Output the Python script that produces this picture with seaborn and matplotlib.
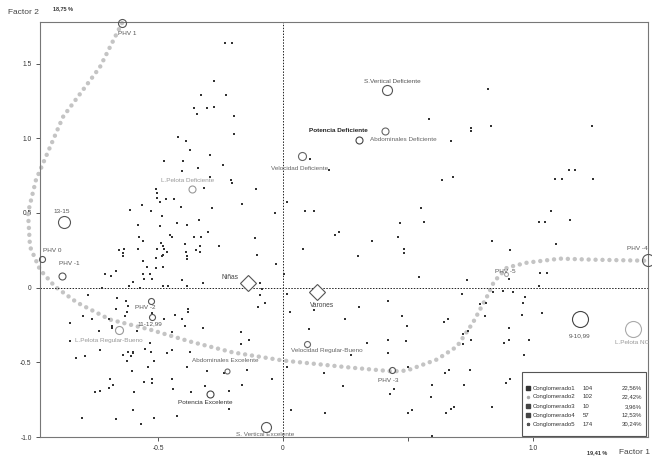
import matplotlib
matplotlib.use("Agg")
import matplotlib.pyplot as plt
import seaborn as sns
import pandas as pd
from matplotlib.patches import Rectangle

sns.set_style("white")
plt.rcParams['font.family'] = ['Liberation Sans', 'DejaVu Sans']

# ---- individuals (factor 1, factor 2) ----
pt_x = [-0.232, -0.205, -0.276, -0.328, -0.228, -0.356, -0.304, -0.277, -0.345, -0.196,
        -0.196, -0.421, -0.387, -0.373, -0.291,
        -0.476, -0.399, -0.341, -0.241, -0.405, -0.291, -0.209, -0.205, -0.315, -0.508,
        -0.505, -0.505, -0.108, -0.468, -0.436, -0.493, -0.563, -0.163, -0.408, -0.285,
        -0.612, -0.528, -0.033, -0.485, -0.337, -0.424, -0.385, -0.579, -0.492, -0.301,
        -0.452, -0.445, -0.575, -0.356, -0.327, -0.112, -0.560, -0.488, -0.392, -0.332,
        -0.255, -0.581, -0.504, -0.480, -0.476, -0.348, -0.655, -0.635, -0.641, -0.641,
        -0.463, -0.389, -0.333, -0.481, -0.485, -0.508, -0.103, -0.385, -0.384, -0.559,
        -0.029, -0.543, -0.509, -0.479, -0.669, -0.712, -0.687, -0.560, -0.531, -0.556,
        -0.524, -0.599, -0.405, -0.321, -0.091, -0.479, -0.461, -0.383, -0.615, -0.571,
        -0.725,
        -0.779, -0.664, -0.628, -0.667, -0.619, -0.631, -0.799, -0.765, -0.851, -0.695,
        -0.685, -0.736,
        -0.623, -0.684, -0.584, -0.523, -0.475, -0.433, -0.403, -0.380, -0.380, -0.392,
        -0.319, -0.445, -0.167, -0.136, -0.167, -0.852, -0.532, -0.551, -0.733, -0.619,
        -0.601, -0.601, -0.528, -0.463, -0.445, -0.639, -0.607, -0.624, -0.516, -0.828,
        -0.791, -0.539, -0.385, -0.303, -0.236, -0.144, -0.603, -0.693, -0.681, -0.696,
        -0.732, -0.751, -0.556, -0.523, -0.524, -0.444, -0.441, -0.367, -0.313, -0.215,
        -0.163, -0.044, -0.595, -0.217, -0.804, -0.668, -0.599, -0.515, -0.425, -0.567,
        0.033, 0.169,
        0.081, 0.300, 0.355, 0.005, 0.015, -0.073, -0.099, -0.092, -0.085, 0.028,
        0.124, 0.249, 0.305, 0.421, 0.105, 0.017, 0.164, 0.335, 0.419, 0.421,
        0.241, 0.428, -0.372,
        0.583, 0.753, 0.753, 0.833, 0.673, 1.236, 0.109, 0.184, 0.635, 0.680,
        1.143, 1.169, 1.089, 1.116, 1.241, 0.017, 0.089, 0.123, 0.553, 0.565,
        0.467, 0.461, 0.484, 0.484, 0.209, 0.224, 1.073, 1.023, 1.049, 1.148,
        1.091, 0.836, 0.907, 0.545, 0.736, 0.905, 1.028, 1.055, 1.023, 0.821,
        0.475, 0.495, 0.644, 0.659, 0.715, 0.788, 0.813, 0.841, 0.919, 0.807,
        0.903, 0.903, 0.885, 0.741, 0.721, 0.751, 0.719, 0.493, 0.271, 0.444,
        0.500, 0.648, 0.663, 0.747, 0.595, 0.724, 0.908, 0.893, 0.592, 0.671,
        0.685, 0.652, 0.516, 0.500, 0.836, 0.597,
        0.881, 0.969, 0.961, 1.035, 0.957, 0.984, 0.964]
pt_y = [1.64, 1.64, 1.38, 1.29, 1.29, 1.20, 1.20, 1.21, 1.16, 1.15,
        1.03, 1.01, 0.98, 0.92, 0.89,
        0.85, 0.85, 0.80, 0.82, 0.78, 0.74, 0.72, 0.70, 0.67, 0.66,
        0.63, 0.60, 0.66, 0.59, 0.593, 0.57, 0.55, 0.56, 0.54, 0.53,
        0.52, 0.51, 0.50, 0.48, 0.45, 0.43, 0.42, 0.42, 0.41, 0.37,
        0.35, 0.34, 0.34, 0.34, 0.34, 0.33, 0.31, 0.30, 0.29, 0.28,
        0.28, 0.26, 0.26, 0.28, 0.26, 0.25, 0.25, 0.26, 0.23, 0.21,
        0.24, 0.24, 0.24, 0.22, 0.21, 0.20, 0.22, 0.21, 0.19, 0.18,
        0.16, 0.14, 0.13, 0.14, 0.11, 0.09, 0.08, 0.09, 0.09, 0.06,
        0.06, 0.04, 0.05, 0.03, 0.03, 0.01, 0.01, 0.01, 0.01, 0.00,
        0.00,
        -0.05, -0.07, -0.09, -0.14, -0.12, -0.19, -0.19, -0.21, -0.24, -0.21,
        -0.26, -0.29,
        -0.16, -0.27, -0.29, -0.17, -0.21, -0.18, -0.21, -0.14, -0.16, -0.26,
        -0.27, -0.30, -0.30, -0.35, -0.38, -0.36, -0.37, -0.41, -0.42, -0.43,
        -0.43, -0.44, -0.43, -0.44, -0.42, -0.45, -0.46, -0.49, -0.49, -0.47,
        -0.46, -0.53, -0.53, -0.56, -0.57, -0.55, -0.56, -0.61, -0.65, -0.67,
        -0.69, -0.70, -0.63, -0.61, -0.64, -0.61, -0.68, -0.70, -0.66, -0.69,
        -0.65, -0.61, -0.70, -0.81, -0.87, -0.88, -0.82, -0.87, -0.86, -0.91,
        -0.82, -0.84,
        0.26, 0.21, 0.31, 0.09, -0.04, -0.10, -0.13, -0.05, -0.01, -0.16,
        -0.15, -0.21, -0.13, -0.09, -0.28, -0.53, -0.57, -0.37, -0.35, -0.44,
        -0.66, -0.71, -0.43,
        1.13, 1.07, 1.05, 1.08, 0.98, 1.08, 0.86, 0.79, 0.72, 0.74,
        0.79, 0.79, 0.73, 0.73, 0.73, 0.57, 0.51, 0.51, 0.53, 0.44,
        0.43, 0.34, 0.26, 0.23, 0.35, 0.37, 0.51, 0.44, 0.44, 0.45,
        0.29, 0.31, 0.25, 0.07, 0.05, 0.06, 0.10, 0.10, 0.01, 1.33,
        -0.19, -0.26, -0.23, -0.21, -0.04, -0.11, -0.10, -0.03, -0.03, -0.19,
        -0.27, -0.35, -0.37, -0.29, -0.31, -0.35, -0.38, -0.36, -0.45, -0.68,
        -0.53, -0.57, -0.55, -0.55, -0.65, -0.65, -0.61, -0.64, -0.73, -0.81,
        -0.80, -0.84, -0.82, -0.84, -0.80, -0.99,
        -0.02, -0.06, -0.10, -0.17, -0.18, -0.35, -0.45]

# ---- category modalities (open circles) ----
mod_names = ["PHV 1", "13-15", "PHV 0", "PHV -1", "L.Pelota Deficiente",
             "S.Vertical Deficiente", "Potencia Deficiente", "Abdominales Deficiente",
             "Velocidad Deficiente", "PHV -2", "11-12,99", "L.Pelota Regular-Bueno",
             "Abdominales Excelente", "Potencia Excelente", "S. Vertical Excelente",
             "Velocidad Regular-Bueno", "PHV -3", "PHV -5", "PHV -4", "9-10,99", "L.Pelota NC"]
mod_x = [-0.644, -0.876, -0.964, -0.884, -0.364, 0.416, 0.304, 0.408, 0.076, -0.528,
         -0.524, -0.657, -0.225, -0.293, -0.068, 0.095, 0.435, 0.892, 1.46, 1.188, 1.399]
mod_y = [1.77, 0.44, 0.19, 0.08, 0.66, 1.32, 0.99, 1.05, 0.88, -0.09,
         -0.20, -0.285, -0.56, -0.715, -0.935, -0.38, -0.553, 0.094, 0.187, -0.207, -0.274]
mod_r = [4, 6, 3, 3.5, 3.5, 5, 3.5, 3.5, 4, 3, 3, 4, 2.5, 3.5, 5, 3, 3, 2, 6, 8, 8]
lab_x = [-0.66, -0.884, -0.96, -0.856, -0.38, 0.436, 0.22, 0.48, 0.068, -0.552,
         -0.532, -0.697, -0.229, -0.312, -0.072, 0.175, 0.42, 0.888, 1.416, 1.188, 1.396]
lab_y = [1.70, 0.51, 0.25, 0.16, 0.72, 1.38, 1.05, 0.99, 0.80, -0.13,
         -0.24, -0.356, -0.49, -0.77, -0.98, -0.42, -0.62, 0.109, 0.26, -0.32, -0.368]
lab_ha = ["left", "center", "left", "center", "center", "center", "center", "center",
          "center", "center", "center", "center", "center", "center", "center", "center",
          "center", "center", "center", "center", "center"]
lab_col = ["#555555", "#555555", "#555555", "#555555", "#999999", "#555555", "#222222",
           "#666666", "#666666", "#555555", "#555555", "#999999", "#666666", "#333333",
           "#666666", "#666666", "#555555", "#555555", "#555555", "#555555", "#999999"]
circ_col = ["#555555", "#555555", "#555555", "#555555", "#999999", "#555555", "#444444",
            "#666666", "#666666", "#555555", "#555555", "#999999", "#666666", "#444444",
            "#555555", "#666666", "#555555", "#aaaaaa", "#555555", "#444444", "#aaaaaa"]

# ---- sex modalities (diamonds) ----
sex_names = ["Niñas", "Varones"]
sex_x = [-0.14, 0.136]
sex_y = [0.03, -0.03]
sex_lab_x = [-0.212, 0.156]
sex_lab_y = [0.07, -0.12]

# ---- PHV trajectory ----
traj_x = [-0.644, -0.732, -0.88, -0.988, -1.02, -1.012, -0.972, -0.912, -0.824, -0.692,
          -0.532, -0.372, -0.20, 0.0, 0.268, 0.44, 0.496, 0.616, 0.696, 0.76,
          0.816, 0.844, 0.896, 0.976, 1.108, 1.24, 1.456]
traj_y = [1.771, 1.477, 1.143, 0.722, 0.501, 0.274, 0.120, 0.007, -0.100, -0.214,
          -0.281, -0.361, -0.434, -0.488, -0.535, -0.561, -0.555, -0.481, -0.394, -0.234,
          -0.060, 0.040, 0.134, 0.167, 0.194, 0.187, 0.180]

# ---- legend table ----
clu_names = ["Conglomerado1", "Conglomerado2", "Conglomerado3", "Conglomerado4", "Conglomerado5"]
clu_n = ["104", "102", "10", "57", "174"]
clu_pct = ["22,56%", "22,42%", "3,96%", "12,53%", "30,24%"]
clu_marker = ["s", ".", "s", "s", "*"]
clu_color = ["#333333", "#aaaaaa", "#444444", "#444444", "#555555"]

fig = plt.figure(figsize=(6.52, 4.57), dpi=100)
ax = fig.add_axes([40/652, 1-437/457, 608/652, 415/457])
ax.set_xlim(-0.972, 1.46)
ax.set_ylim(-0.996, 1.778)

# trajectory (dotted thick grey)
ax.plot(traj_x, traj_y, color="#c4c4c4", lw=3.2, linestyle=(0, (0.01, 1.55)),
        dash_capstyle="round", solid_joinstyle="round", zorder=1, clip_on=False)

ax.axhline(0, color="#222222", lw=0.7, linestyle=(0, (1.5, 1.5)), zorder=2)
ax.axvline(0, color="#222222", lw=0.7, linestyle=(0, (1.5, 1.5)), zorder=2)

pts = pd.DataFrame({"f1": pt_x, "f2": pt_y})
sns.scatterplot(data=pts, x="f1", y="f2", ax=ax, marker="s", s=3, color="#333333",
                linewidth=0, zorder=3)

for n, x, y, r, lx, ly, ha, lc, cc in zip(mod_names, mod_x, mod_y, mod_r, lab_x, lab_y,
                                          lab_ha, lab_col, circ_col):
    ax.plot([x], [y], marker="o", ms=2*r*0.72, mfc="none", mec=cc, mew=0.8,
            zorder=4, clip_on=False)
    fw = "bold" if n == "Potencia Deficiente" else "normal"
    ax.text(lx, ly, n, fontsize=4.6, color=lc, ha=ha, va="center", zorder=5, fontweight=fw)

for n, x, y, lx, ly in zip(sex_names, sex_x, sex_y, sex_lab_x, sex_lab_y):
    ax.plot([x], [y], marker="D", ms=8, mfc="white", mec="#555555", mew=0.8, zorder=4)
    ax.text(lx, ly, n, fontsize=4.8, color="#444444", ha="center", va="center", zorder=5)

# axes styling
for s in ax.spines.values():
    s.set_color("#777777")
    s.set_linewidth(0.8)
ax.set_xticks([-0.5, 0, 0.5, 1.0])
ax.set_xticklabels(["-0.5", "0", "", "1.0"])
ax.set_yticks([1.5, 1.0, 0.5, 0, -0.5, -1.0])
ax.set_yticklabels(["1.5", "1.0", "0.5", "0", "-0.5", "-1.0"])
ax.tick_params(axis="both", direction="out", length=3, width=0.7, color="#555555",
               labelsize=4.8, labelcolor="#333333", pad=3)
ax.tick_params(axis="x", bottom=True)
ax.tick_params(axis="y", left=True)
ax.set_xlabel("")
ax.set_ylabel("")

# axis titles
fig.text(8/652, 1-12/457, "Factor 2", fontsize=6, color="#444444", ha="left", va="center")
fig.text(53/652, 1-9/457, "18,75 %", fontsize=4, color="#333333", ha="left", va="center",
         fontweight="bold")
fig.text(597/652, 1-453/457, "19,41 %", fontsize=4, color="#333333", ha="center",
         va="center", fontweight="bold")
fig.text(650/652, 1-453/457, "Factor 1", fontsize=6, color="#444444", ha="right", va="center")

# legend table
ax.add_patch(Rectangle((0.793, 0.003), 0.204, 0.154, transform=ax.transAxes,
                       facecolor="white", edgecolor="#555555", lw=0.8, zorder=6))
row_y = [0.118, 0.0964, 0.0735, 0.053, 0.0313]
for nm, nn, pc, mk, mc, yy in zip(clu_names, clu_n, clu_pct, clu_marker, clu_color, row_y):
    ax.plot([0.8026], [yy], marker=mk, ms=2.2 if mk != "." else 3, color=mc,
            transform=ax.transAxes, zorder=7, clip_on=False)
    ax.text(0.811, yy, nm, fontsize=4.3, color="#333333", ha="left", va="center",
            transform=ax.transAxes, zorder=7)
    ax.text(0.893, yy, nn, fontsize=4.3, color="#333333", ha="left", va="center",
            transform=ax.transAxes, zorder=7)
    ax.text(0.990, yy, pc, fontsize=4.3, color="#333333", ha="right", va="center",
            transform=ax.transAxes, zorder=7)

fig.savefig("out.png", dpi=100)
